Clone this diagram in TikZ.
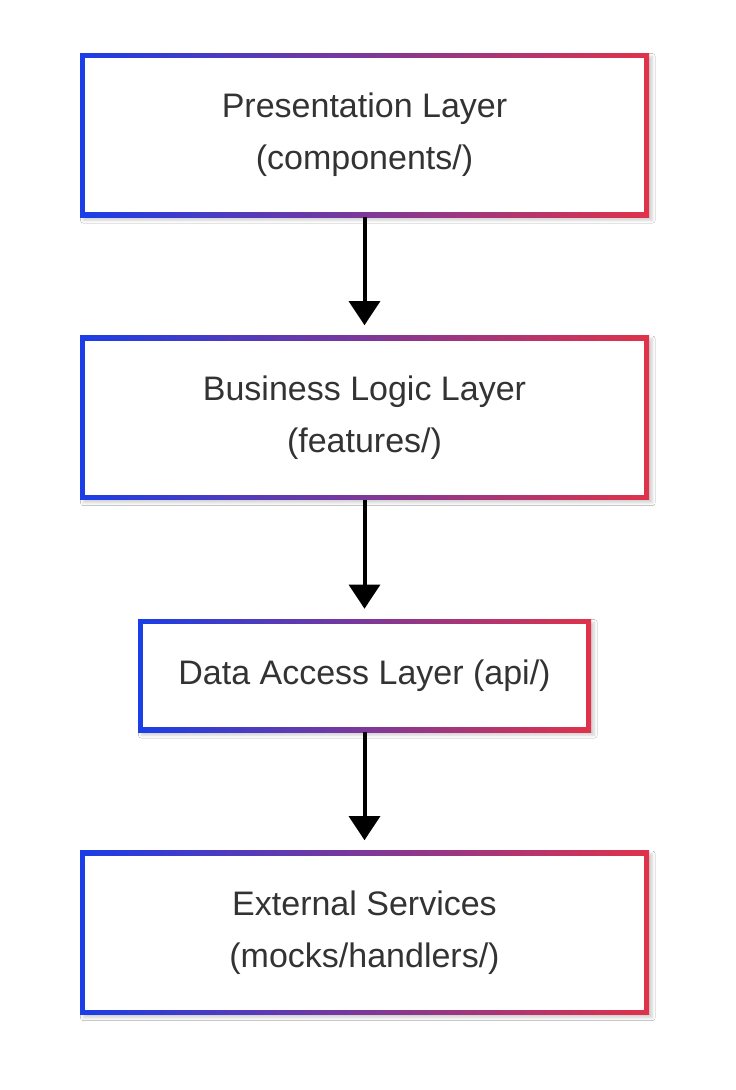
\documentclass[tikz,border=0pt]{standalone}
\usepackage{fontspec}
\setmainfont{Liberation Sans}
\usetikzlibrary{positioning,arrows.meta,shadows.blur}
\definecolor{edgeblue}{RGB}{26, 62, 232}
\definecolor{edgered}{RGB}{224, 50, 74}
\definecolor{labelgray}{RGB}{51, 51, 51}
\tikzset{
  layerbox/.style={shade, left color=edgeblue, right color=edgered,
    minimum height=123pt, minimum width=426.75pt, inner sep=0pt,
    align=center, text=labelgray, font=\fontsize{25.5}{39}\selectfont,
    blur shadow={shadow xshift=2.5pt, shadow yshift=-2.5pt, shadow opacity=18, shadow blur steps=6},
    path picture={\fill[white] ([shift={(3.75pt,3.75pt)}]path picture bounding box.south west)
      rectangle ([shift={(-3.75pt,-3.75pt)}]path picture bounding box.north east);}},
  flow/.style={line width=3pt, -{Triangle[width=23pt,length=18pt]}, shorten >=7.5pt}
}
\begin{document}
\begin{tikzpicture}[x=0.75pt,y=-0.75pt]
  \useasboundingbox[fill=white] (0,0) rectangle (736,1090);
  \node[layerbox] (presentation) at (364.5,135) {Presentation Layer\\(components/)};
  \node[layerbox] (business) at (364.5,417.5) {Business Logic Layer\\(features/)};
  \node[layerbox, minimum width=339.75pt, minimum height=84.75pt] (dataaccess) at (364.5,675.5) {Data Access Layer (api/)};
  \node[layerbox] (external) at (364.5,932.5) {External Services\\(mocks/handlers/)};
  \draw[flow] (presentation) -- (business);
  \draw[flow] (business) -- (dataaccess);
  \draw[flow] (dataaccess) -- (external);
\end{tikzpicture}
\end{document}
